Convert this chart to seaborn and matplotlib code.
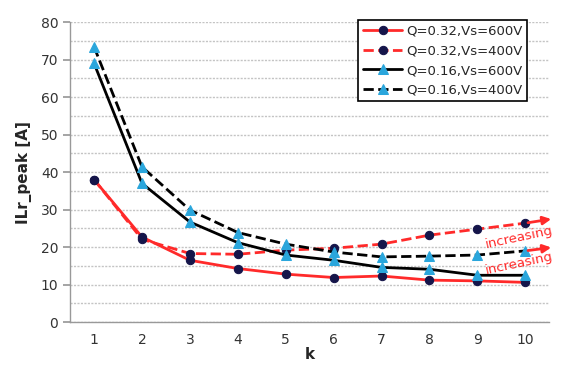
import matplotlib
matplotlib.use("Agg")
import matplotlib.pyplot as plt
import seaborn as sns
import pandas as pd

sns.set_theme(style="white")
plt.rcParams['font.family'] = ['DejaVu Sans']

# ---- data ----
k = [1, 2, 3, 4, 5, 6, 7, 8, 9, 10]
q032_600 = [38, 22.7, 16.5, 14.3, 12.8, 11.9, 12.3, 11.2, 11.0, 10.6]
q032_400 = [38, 22.1, 18.3, 18.1, 19.2, 19.7, 20.8, 23.2, 24.8, 26.4]
q016_600 = [69, 37, 26.7, 21.2, 17.9, 16.5, 14.6, 14.1, 12.5, 12.5]
q016_400 = [73.4, 41.4, 29.9, 23.9, 20.8, 18.7, 17.4, 17.6, 17.9, 19.0]
labels = ["Q=0.32,Vs=600V", "Q=0.32,Vs=400V", "Q=0.16,Vs=600V", "Q=0.16,Vs=400V"]
x_ticks = [1, 2, 3, 4, 5, 6, 7, 8, 9, 10]
y_ticks = [0, 10, 20, 30, 40, 50, 60, 70, 80]

series = [q032_600, q032_400, q016_600, q016_400]
df = pd.DataFrame({"k": k * 4,
                   "I": sum(series, []),
                   "s": [l for l in labels for _ in k]})

red = "#ff2a2a"
navy = "#15154a"
cyan = "#2aa6dc"
styles = {
    labels[0]: dict(color=red, ls="-", marker="o", mfc=navy, mec=navy, ms=6),
    labels[1]: dict(color=red, ls="--", marker="o", mfc=navy, mec=navy, ms=6),
    labels[2]: dict(color="black", ls="-", marker="^", mfc=cyan, mec=cyan, ms=7),
    labels[3]: dict(color="black", ls="--", marker="^", mfc=cyan, mec=cyan, ms=7),
}

fig = plt.figure(figsize=(5.61, 3.69), dpi=100)
ax = fig.add_axes([0.125, 0.127, 0.854, 0.813])

for lab in labels:
    st = styles[lab]
    sub = df[df["s"] == lab]
    sns.lineplot(data=sub, x="k", y="I", ax=ax, label=lab, color=st["color"],
                 linestyle=st["ls"], marker=st["marker"], markerfacecolor=st["mfc"],
                 markeredgecolor=st["mec"], markersize=st["ms"], linewidth=2)

ax.set_xlim(0.5, 10.5)
ax.set_ylim(0, 80)
ax.set_yticks(y_ticks)
ax.set_yticks(range(5, 80, 10), minor=True)
ax.set_xticks(x_ticks)
ax.set_xticks([x + 0.5 for x in range(0, 11)], minor=True)
ax.tick_params(axis="x", which="major", length=0, labelsize=10, pad=8, labelcolor="#333333")
ax.tick_params(axis="x", which="minor", length=4, color="#999999", direction="out")
ax.tick_params(axis="y", which="major", length=5, color="#999999", labelsize=10, left=True,
               labelcolor="#333333")
ax.grid(True, axis="y", which="both", color="#c4c4c4", linestyle=(0, (1.5, 1)), linewidth=1)
for side in ["top", "right"]:
    ax.spines[side].set_visible(False)
for side in ["left", "bottom"]:
    ax.spines[side].set_color("#999999")
    ax.spines[side].set_linewidth(1)

ax.set_xlabel("k", fontsize=11, fontweight="bold", labelpad=0)
ax.set_ylabel("ILr_peak [A]", fontsize=11, fontweight="bold", labelpad=6)

# "increasing" arrows and labels
ax.annotate("", xy=(10.6, q032_400[-1] + 1.2), xytext=(10.0, q032_400[-1]),
            arrowprops=dict(arrowstyle="-|>", color=red, lw=2, mutation_scale=12),
            annotation_clip=False)
ax.annotate("", xy=(10.6, q016_400[-1] + 1.0), xytext=(10.0, q016_400[-1]),
            arrowprops=dict(arrowstyle="-|>", color=red, lw=2, mutation_scale=12),
            annotation_clip=False)
ax.text(9.87, 22.6, "increasing", color=red, fontsize=9.5, rotation=12,
        ha="center", va="center", clip_on=False)
ax.text(9.87, 15.6, "increasing", color=red, fontsize=9.5, rotation=12,
        ha="center", va="center", clip_on=False)

leg = ax.legend(loc="upper right", bbox_to_anchor=(0.96, 1.015), fontsize=9.5,
                frameon=True, fancybox=False, edgecolor="black", framealpha=1,
                handlelength=3.0, borderpad=0.35, labelspacing=0.5, handletextpad=0.3,
                borderaxespad=0.2)
leg.get_frame().set_linewidth(1.2)

fig.savefig("out.png", dpi=100)
